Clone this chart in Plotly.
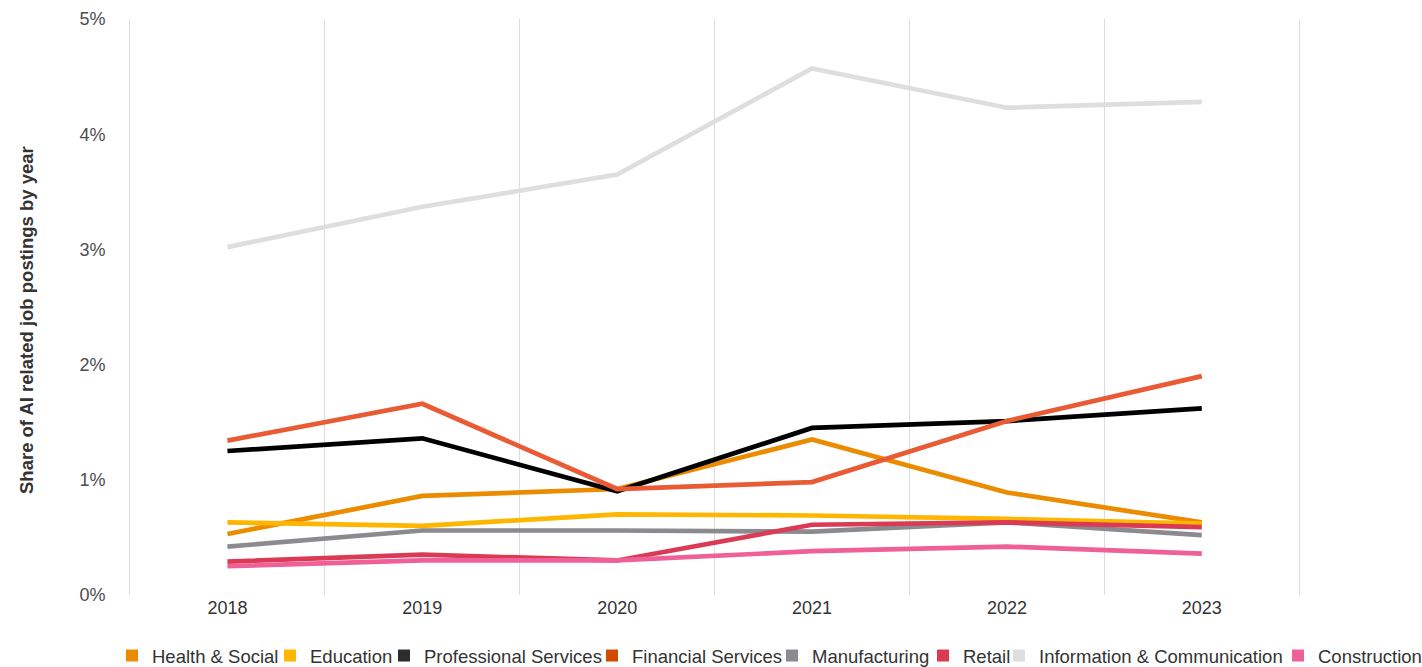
import plotly.graph_objects as go

years = ["2018", "2019", "2020", "2021", "2022", "2023"]

health_social = [0.53, 0.86, 0.92, 1.35, 0.89, 0.63]
education = [0.63, 0.60, 0.70, 0.69, 0.66, 0.62]
professional_services = [1.25, 1.36, 0.90, 1.45, 1.51, 1.62]
financial_services = [1.34, 1.66, 0.92, 0.98, 1.51, 1.90]
manufacturing = [0.42, 0.56, 0.56, 0.55, 0.63, 0.52]
retail = [0.29, 0.35, 0.30, 0.61, 0.63, 0.59]
info_comm = [3.02, 3.37, 3.65, 4.57, 4.23, 4.28]
construction = [0.25, 0.30, 0.30, 0.38, 0.42, 0.36]

series_names = ["Health & Social", "Education", "Professional Services",
                "Financial Services", "Manufacturing", "Retail",
                "Information & Communication", "Construction"]
series_values = [health_social, education, professional_services,
                 financial_services, manufacturing, retail, info_comm,
                 construction]
line_colors = ["#eb8c00", "#ffb600", "#000000", "#e85b35", "#8b8b8f",
               "#db3a55", "#dedede", "#ef6099"]
legend_colors = ["#eb8c00", "#ffb600", "#2d2d2d", "#d04a02", "#8b8b8f",
                 "#db3a55", "#dedede", "#ef6099"]
# pixel x where each legend text begins
legend_text_px = [149, 307, 421, 629, 809, 960, 1036, 1315]

PLOT_L, PLOT_W = 130, 1292
font_family = "Liberation Sans, Arial, Helvetica, sans-serif"

fig = go.Figure()
for name, vals, lc in zip(series_names, series_values, line_colors):
    fig.add_trace(go.Scatter(x=years, y=vals, mode="lines", name=name,
                             line=dict(color=lc, width=4.7),
                             showlegend=False))

legend_layouts = {}
for i, (name, sc, tx) in enumerate(zip(series_names, legend_colors, legend_text_px)):
    key = "legend" if i == 0 else f"legend{i + 1}"
    fig.add_trace(go.Scatter(x=[None], y=[None], mode="markers", name=name,
                             legend=key, showlegend=True,
                             marker=dict(symbol="square", size=12, color=sc)))
    legend_layouts[key] = dict(
        orientation="h", x=(tx - 37 - PLOT_L) / PLOT_W, xanchor="left",
        y=(595 - 656) / 576, yanchor="middle", itemwidth=30,
        bgcolor="rgba(0,0,0,0)", borderwidth=0,
        font=dict(family=font_family, size=18.5, color="#333333"))

fig.update_layout(
    width=1422, height=667,
    margin=dict(l=PLOT_L, r=0, t=19, b=72, autoexpand=False),
    paper_bgcolor="white", plot_bgcolor="white",
    font=dict(family=font_family, size=18, color="#333333"),
    showlegend=True,
    xaxis=dict(type="category", tickson="boundaries", range=[-0.5, 6.13],
               showgrid=True, gridcolor="#dcdcdc", gridwidth=1,
               showline=False, ticks="", zeroline=False,
               tickfont=dict(size=18, color="#333333")),
    yaxis=dict(range=[0, 5], dtick=1, ticksuffix="%", showgrid=False,
               showline=True, linecolor="#dcdcdc", linewidth=1,
               zeroline=False, ticks="", ticklabelstandoff=20,
               tickfont=dict(size=18, color="#4d4d4d")),
    annotations=[dict(text="<b>Share of AI related job postings by year</b>",
                      xref="paper", yref="paper",
                      x=(26 - PLOT_L) / PLOT_W, y=(595 - 320) / 576,
                      xanchor="center", yanchor="middle", textangle=-90,
                      showarrow=False,
                      font=dict(family=font_family, size=18.5, color="#333333"))],
    **legend_layouts,
)

fig.write_html("out.html")
